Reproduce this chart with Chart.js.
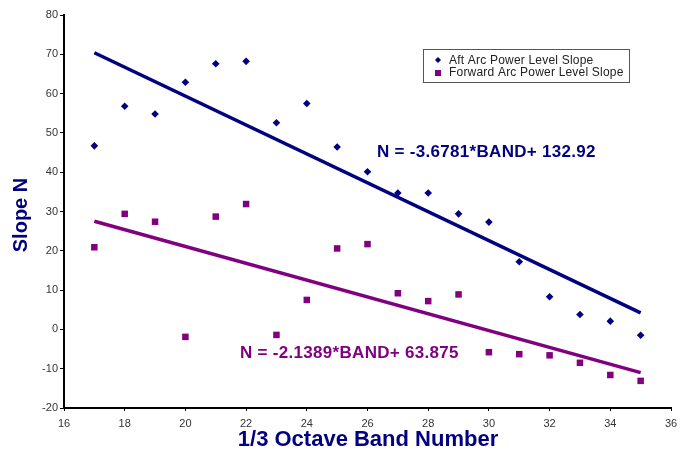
<!DOCTYPE html>
<html>
<head>
<meta charset="utf-8">
<script src="https://cdn.jsdelivr.net/npm/chart.js@4/dist/chart.umd.min.js"></script>
<style>
  html, body { margin: 0; padding: 0; background: #fff; }
  canvas { display: block; }
</style>
</head>
<body>
<canvas id="slopeChart" width="684" height="450"></canvas>
<script>
// 1/3 octave band numbers and measured slope N for each arc
const bands = [17, 18, 19, 20, 21, 22, 23, 24, 25, 26, 27, 28, 29, 30, 31, 32, 33, 34, 35];
const aftSlope = [46.7, 56.8, 54.8, 62.9, 67.6, 68.2, 52.6, 57.5, 46.4, 40.1, 34.7, 34.7, 29.4, 27.3, 17.2, 8.3, 3.8, 2.1, -1.5];
const fwdSlope = [20.9, 29.4, 27.4, -1.9, 28.7, 31.9, -1.4, 7.5, 20.6, 21.7, 9.2, 7.2, 8.9, -5.8, -6.3, -6.6, -8.5, -11.6, -13.1];

const seriesNames = ["Aft Arc Power Level Slope", "Forward Arc Power Level Slope"];

// linear trend fits: N = slope*BAND + intercept
const trendSlope = [-3.6781, -2.1389];
const trendIntercept = [132.92, 63.875];
const trendBands = [17, 35];

const yTicks = [-20, -10, 0, 10, 20, 30, 40, 50, 60, 70, 80];
const xTicks = [16, 18, 20, 22, 24, 26, 28, 30, 32, 34, 36];

const NAVY = "#000080";
const PURPLE = "#800080";
const FONT = "Liberation Sans, Arial, sans-serif";

const pts = (ys) => bands.map((b, i) => ({ x: b, y: ys[i] }));
const trend = (k) => trendBands.map(b => ({ x: b, y: trendSlope[k] * b + trendIntercept[k] }));
const eqText = (k) => "N = " + trendSlope[k] + "*BAND+ " + trendIntercept[k];

// axis titles, fit equations and the boxed legend
const annotations = {
    id: "annotations",
    afterDraw(chart) {
        const ctx = chart.ctx;
        ctx.save();

        ctx.font = "bold 17px " + FONT;
        ctx.letterSpacing = "0.3px";
        ctx.textBaseline = "middle";
        ctx.textAlign = "left";
        ctx.fillStyle = NAVY;
        ctx.fillText(eqText(0), 377, 152);
        ctx.fillStyle = PURPLE;
        ctx.fillText(eqText(1), 240, 353);
        ctx.letterSpacing = "0px";

        ctx.fillStyle = NAVY;
        ctx.font = "bold 22px " + FONT;
        ctx.textAlign = "center";
        ctx.fillText("1/3 Octave Band Number", 368, 440);

        ctx.save();
        ctx.translate(21, 215);
        ctx.rotate(-Math.PI / 2);
        ctx.font = "bold 20px " + FONT;
        ctx.fillText("Slope N", 0, 0);
        ctx.restore();

        // legend
        ctx.fillStyle = "#fff";
        ctx.fillRect(423.5, 49.5, 206, 33);
        ctx.strokeStyle = "#555";
        ctx.lineWidth = 1;
        ctx.strokeRect(423.5, 49.5, 206, 33);

        ctx.fillStyle = NAVY;
        ctx.beginPath();
        ctx.moveTo(438, 57);
        ctx.lineTo(441, 60);
        ctx.lineTo(438, 63);
        ctx.lineTo(435, 60);
        ctx.closePath();
        ctx.fill();
        ctx.fillStyle = PURPLE;
        ctx.fillRect(435, 70, 6, 6);

        ctx.font = "12px " + FONT;
        ctx.letterSpacing = "0.2px";
        ctx.textAlign = "left";
        ctx.fillStyle = "#222";
        ctx.fillText(seriesNames[0], 449, 61);
        ctx.fillText(seriesNames[1], 449, 73);
        ctx.restore();
    }
};

new Chart(document.getElementById("slopeChart"), {
    type: "scatter",
    data: {
        datasets: [
            {
                label: seriesNames[0],
                data: pts(aftSlope),
                pointStyle: "rectRot",
                pointRadius: 3.8,
                backgroundColor: NAVY,
                borderColor: NAVY,
                borderWidth: 0,
            },
            {
                label: seriesNames[1],
                data: pts(fwdSlope),
                pointStyle: "rect",
                pointRadius: 4.6,
                backgroundColor: PURPLE,
                borderColor: PURPLE,
                borderWidth: 0,
            },
            {
                type: "line",
                data: trend(0),
                borderColor: NAVY,
                borderWidth: 3.5,
                pointRadius: 0,
                fill: false,
            },
            {
                type: "line",
                data: trend(1),
                borderColor: PURPLE,
                borderWidth: 3.5,
                pointRadius: 0,
                fill: false,
            },
        ],
    },
    options: {
        responsive: false,
        animation: false,
        layout: { padding: { top: 15, right: 13, left: 0, bottom: 0 } },
        plugins: {
            legend: { display: false },
            tooltip: { enabled: false },
        },
        scales: {
            x: {
                type: "linear",
                min: 16,
                max: 36,
                afterFit: (s) => { s.height = 42; },
                afterBuildTicks: (s) => { s.ticks = xTicks.map(v => ({ value: v })); },
                grid: { drawOnChartArea: false, drawTicks: true, tickLength: 3, color: "#000" },
                border: { color: "#000", width: 2 },
                ticks: { font: { family: FONT, size: 11 }, color: "#333", padding: 6 },
            },
            y: {
                min: -20,
                max: 80,
                afterFit: (s) => { s.width = 64; },
                afterBuildTicks: (s) => { s.ticks = yTicks.map(v => ({ value: v })); },
                grid: { drawOnChartArea: false, drawTicks: true, tickLength: 4, color: "#000" },
                border: { color: "#000", width: 2 },
                ticks: { font: { family: FONT, size: 11 }, color: "#333", padding: 2 },
            },
        },
    },
    plugins: [annotations],
});
</script>
</body>
</html>
